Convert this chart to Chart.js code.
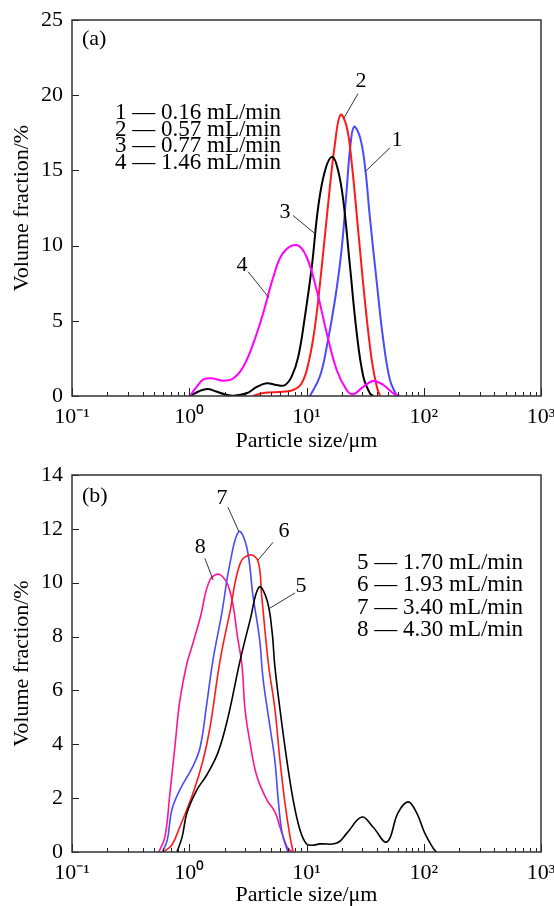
<!DOCTYPE html>
<html>
<head>
<meta charset="utf-8">
<title>Particle size distribution</title>
<script src="https://cdn.jsdelivr.net/npm/chart.js@4/dist/chart.umd.min.js"></script>
<style>
  html, body { margin: 0; padding: 0; background: #fff; }
  #wrap { position: relative; width: 554px; height: 906px; }
  canvas { position: absolute; left: 0; }
  #panelA { top: 0; }
  #panelB { top: 453px; }
</style>
</head>
<body>
<div id="wrap">
  <canvas id="panelA" width="554" height="453"></canvas>
  <canvas id="panelB" width="554" height="453"></canvas>
</div>
<script>
// ---- x-axis decades and their labels ----
const decades = [0.1, 1, 10, 100, 1000];
const decadeLabels = ['10\u207B\u00B9', '10\u2070', '10\u00B9', '10\u00B2', '10\u00B3'];

// ---- panel (a): particle size (µm) and volume fraction (%) ----
const sizeA1 = [10.7, 13.0, 14.9, 17.5, 19.9, 22.0, 23.5, 25.4, 28.6, 31.6, 34.7, 39.8, 45.2, 51.5, 58.9];
const fracA1 = [0, 1.3, 3.3, 6.4, 9.7, 13.7, 16.4, 17.9, 17.2, 15.2, 11.9, 7.5, 3.7, 1.06, 0];

const sizeA2 = [3.5, 4.27, 6.3, 7.7, 9.1, 10.4, 11.8, 13.5, 15.4, 17.5, 19.5, 22.0, 24.3, 27.6, 31.6, 36.0, 39.8, 42.4];
const fracA2 = [0, 0.2, 0.28, 0.4, 0.85, 2.2, 4.6, 8.6, 13.0, 16.8, 18.7, 17.9, 15.5, 11.0, 6.2, 2.4, 0.6, 0];

const sizeA3 = [1.01, 1.2, 1.42, 1.7, 2.0, 2.38, 3.09, 3.76, 4.57, 5.57, 6.56, 7.48, 8.5, 9.7, 11.1, 12.6, 14.4, 16.6, 18.6, 20.6, 23.5, 26.8, 30.5, 34.7, 37.2];
const fracA3 = [0, 0.3, 0.47, 0.3, 0.12, 0.02, 0.18, 0.6, 0.85, 0.73, 0.73, 1.3, 2.6, 5.3, 8.6, 12.6, 15.0, 15.9, 15.0, 13.0, 8.6, 4.2, 1.3, 0.18, 0];

const sizeA4 = [1.01, 1.16, 1.32, 1.55, 1.95, 2.38, 2.89, 3.52, 4.27, 5.21, 6.3, 8.24, 10.0, 12.2, 14.9, 18.1, 22.0, 25.1, 30.5, 37.2, 45.2, 55.0, 62.7];
const fracA4 = [0, 0.62, 1.1, 1.18, 1.02, 1.18, 1.95, 3.5, 5.5, 7.9, 9.5, 10.04, 9.26, 7.05, 4.17, 1.73, 0.4, 0.12, 0.62, 1.0, 0.73, 0.18, 0];

const legendA = ['1 \u2014 0.16 mL/min', '2 \u2014 0.57 mL/min', '3 \u2014 0.77 mL/min', '4 \u2014 1.46 mL/min'];

// ---- panel (b) ----
const sizeB5 = [0.785, 0.87, 0.955, 1.16, 1.41, 1.76, 2.14, 2.71, 3.3, 3.94, 4.6, 5.08, 5.37, 5.94, 6.8, 7.7, 8.8, 10.0, 11.2, 13.0, 18.2, 22.1, 29.7, 36.9, 48.5, 60.3, 73.5, 87, 102, 120, 128];
const fracB5 = [0, 0.56, 1.45, 2.3, 2.86, 3.7, 5.0, 7.1, 8.6, 9.84, 9.36, 8.2, 6.9, 5.3, 3.4, 1.93, 0.82, 0.3, 0.25, 0.3, 0.33, 0.7, 1.3, 0.93, 0.37, 1.45, 1.86, 1.45, 0.7, 0.15, 0];

const sizeB6 = [0.6, 0.71, 0.83, 1.08, 1.31, 1.5, 1.83, 2.22, 2.71, 3.3, 3.86, 4.15, 4.73, 5.38, 5.94, 6.56, 7.24, 7.7];
const fracB6 = [0, 0.26, 0.93, 2.2, 3.4, 4.6, 7.1, 8.9, 10.7, 11.03, 10.8, 9.5, 7.0, 5.3, 3.4, 1.8, 0.56, 0];

const sizeB7 = [0.59, 0.65, 0.71, 0.83, 1.08, 1.24, 1.41, 1.59, 1.9, 2.22, 2.65, 3.1, 3.5, 3.98, 4.27, 4.9, 5.37, 5.75, 6.2, 6.95];
const fracB7 = [0, 0.45, 1.56, 2.3, 3.2, 3.9, 5.5, 7.1, 8.9, 10.7, 11.9, 11.3, 9.5, 7.9, 6.4, 4.6, 3.4, 1.9, 0.7, 0];

const sizeB8 = [0.55, 0.62, 0.685, 0.76, 0.83, 0.955, 1.05, 1.24, 1.5, 1.83, 2.22, 2.6, 2.82, 2.99, 3.3, 3.78, 4.6, 5.37, 5.94, 6.8, 7.5];
const fracB8 = [0, 0.56, 2.2, 4.05, 5.6, 7.0, 7.6, 8.7, 10.1, 10.3, 9.7, 7.9, 6.9, 5.3, 4.05, 2.8, 1.93, 1.5, 0.93, 0.2, 0];

const legendB = ['5 \u2014 1.70 mL/min', '6 \u2014 1.93 mL/min', '7 \u2014 3.40 mL/min', '8 \u2014 4.30 mL/min'];

// ---- curve tags: number, label anchor, leader line (data coordinates) ----
const tagsA = [
  { text: '2', at: [29.2, 20.9], from: [27.5, 20.1], to: [20.9, 18.5] },
  { text: '1', at: [59, 17.0],   from: [51.5, 16.5], to: [31.5, 14.9] },
  { text: '3', at: [6.56, 12.2], from: [7.67, 12.0], to: [11.8, 10.8] },
  { text: '4', at: [2.82, 8.67], from: [3.17, 8.27], to: [4.79, 6.53] }
];
const tagsB = [
  { text: '7', at: [1.90, 13.15], from: [2.14, 12.8], to: [2.65, 11.9] },
  { text: '6', at: [6.43, 11.9],  from: [5.18, 11.5], to: [3.86, 10.84] },
  { text: '8', at: [1.24, 11.3],  from: [1.36, 10.9], to: [1.60, 10.1] },
  { text: '5', at: [8.98, 9.88],  from: [7.98, 9.62], to: [4.89, 9.06] }
];

const SERIF = '"Liberation Serif", "Times New Roman", serif';

function pts(xs, ys) { return xs.map((v, i) => ({ x: v, y: ys[i] })); }
function isDecade(v) { const l = Math.log10(v); return Math.abs(l - Math.round(l)) < 1e-9; }

function allLogTicks() {
  const out = [];
  for (let k = -1; k < 3; k++) {
    for (let m = 1; m < 10; m++) out.push(m * Math.pow(10, k));
  }
  out.push(1000);
  return out;
}

// Frame, inward ticks, curve tags and the text block inside the plot
const decorations = {
  id: 'decorations',
  afterDatasetsDraw(chart, args, opts) {
    const { ctx, chartArea: a, scales: { x, y } } = chart;
    ctx.save();
    // inward tick marks
    ctx.strokeStyle = '#222';
    ctx.lineWidth = 1;
    ctx.beginPath();
    x.ticks.forEach(t => {
      const px = Math.round(x.getPixelForValue(t.value)) + 0.5;
      const len = isDecade(t.value) ? 8 : 4;
      ctx.moveTo(px, a.bottom);
      ctx.lineTo(px, a.bottom - len);
    });
    y.ticks.forEach(t => {
      const py = Math.round(y.getPixelForValue(t.value)) + 0.5;
      ctx.moveTo(a.left, py);
      ctx.lineTo(a.left + 7, py);
    });
    ctx.stroke();
    // frame
    ctx.strokeStyle = '#333';
    ctx.lineWidth = 1.5;
    ctx.strokeRect(a.left, a.top, a.right - a.left, a.bottom - a.top);

    // leader lines and numbers
    ctx.strokeStyle = '#333';
    ctx.lineWidth = 1;
    ctx.fillStyle = '#000';
    ctx.font = '22px ' + SERIF;
    ctx.textAlign = 'center';
    ctx.textBaseline = 'middle';
    (opts.tags || []).forEach(t => {
      ctx.beginPath();
      ctx.moveTo(x.getPixelForValue(t.from[0]), y.getPixelForValue(t.from[1]));
      ctx.lineTo(x.getPixelForValue(t.to[0]), y.getPixelForValue(t.to[1]));
      ctx.stroke();
      ctx.fillText(t.text, x.getPixelForValue(t.at[0]), y.getPixelForValue(t.at[1]));
    });

    // panel letter
    ctx.textAlign = 'left';
    ctx.fillText(opts.panel, a.left + 10, a.top + opts.panelDy);

    // flow-rate list
    ctx.font = '23px ' + SERIF;
    (opts.lines || []).forEach((s, i) => {
      ctx.fillText(s, a.left + opts.listDx, a.top + opts.listDy + i * opts.listGap);
    });
    ctx.restore();
  }
};

function makeChart(canvasId, datasets, yMax, yStep, padTop, xAxisH, xTitlePad, deco) {
  return new Chart(document.getElementById(canvasId), {
    type: 'line',
    data: { datasets },
    options: {
      responsive: false,
      animation: false,
      events: [],
      layout: { padding: { left: 0, right: 13, top: padTop, bottom: 0 } },
      elements: { point: { radius: 0 } },
      plugins: {
        legend: { display: false },
        tooltip: { enabled: false },
        decorations: deco
      },
      scales: {
        x: {
          type: 'logarithmic',
          min: 0.1,
          max: 1000,
          border: { display: false },
          grid: { display: false, drawTicks: false },
          afterBuildTicks(scale) {
            scale.ticks = allLogTicks().map(v => ({ value: v, major: isDecade(v) }));
          },
          afterFit(scale) {
            scale.height = xAxisH;
            scale.paddingLeft = 0;
            scale.paddingRight = 0;
          },
          ticks: {
            autoSkip: false,
            maxRotation: 0,
            padding: 8,
            color: '#000',
            font: { family: SERIF, size: 22 },
            callback(value) {
              const i = decades.findIndex(d => Math.abs(Math.log10(d) - Math.log10(value)) < 1e-9);
              return i >= 0 ? decadeLabels[i] : '';
            }
          },
          title: {
            display: true,
            text: 'Particle size/\u03BCm',
            color: '#000',
            font: { family: SERIF, size: 22, lineHeight: 1 },
            padding: { top: 0, bottom: xTitlePad }
          }
        },
        y: {
          min: 0,
          max: yMax,
          border: { display: false },
          grid: { display: false, drawTicks: false },
          afterFit(scale) {
            scale.width = 72;
            scale.paddingTop = 0;
            scale.paddingBottom = 0;
          },
          ticks: {
            stepSize: yStep,
            padding: 9,
            color: '#000',
            font: { family: SERIF, size: 22 }
          },
          title: {
            display: true,
            text: 'Volume fraction/%',
            color: '#000',
            font: { family: SERIF, size: 22, lineHeight: 1.2 },
            padding: { top: 9, bottom: 0 }
          }
        }
      }
    },
    plugins: [decorations]
  });
}

function series(xs, ys, color, width) {
  return {
    data: pts(xs, ys),
    borderColor: color,
    borderWidth: width,
    fill: false,
    tension: 0.4
  };
}

makeChart('panelA', [
  series(sizeA4, fracA4, '#ff00ff', 2),
  series(sizeA3, fracA3, '#000000', 2),
  series(sizeA2, fracA2, '#ff1a1a', 2),
  series(sizeA1, fracA1, '#4a4aff', 2)
], 25, 5, 20, 57, 1, {
  tags: tagsA, panel: '(a)', panelDy: 19,
  lines: legendA, listDx: 43, listDy: 93, listGap: 16.7
});

makeChart('panelB', [
  series(sizeB5, fracB5, '#000000', 1.6),
  series(sizeB6, fracB6, '#ff1a1a', 1.6),
  series(sizeB7, fracB7, '#4a4aff', 1.6),
  series(sizeB8, fracB8, '#ff1493', 1.6)
], 14, 2, 22, 54, 0, {
  tags: tagsB, panel: '(b)', panelDy: 21,
  lines: legendB, listDx: 285, listDy: 88, listGap: 22.4
});
</script>
</body>
</html>
